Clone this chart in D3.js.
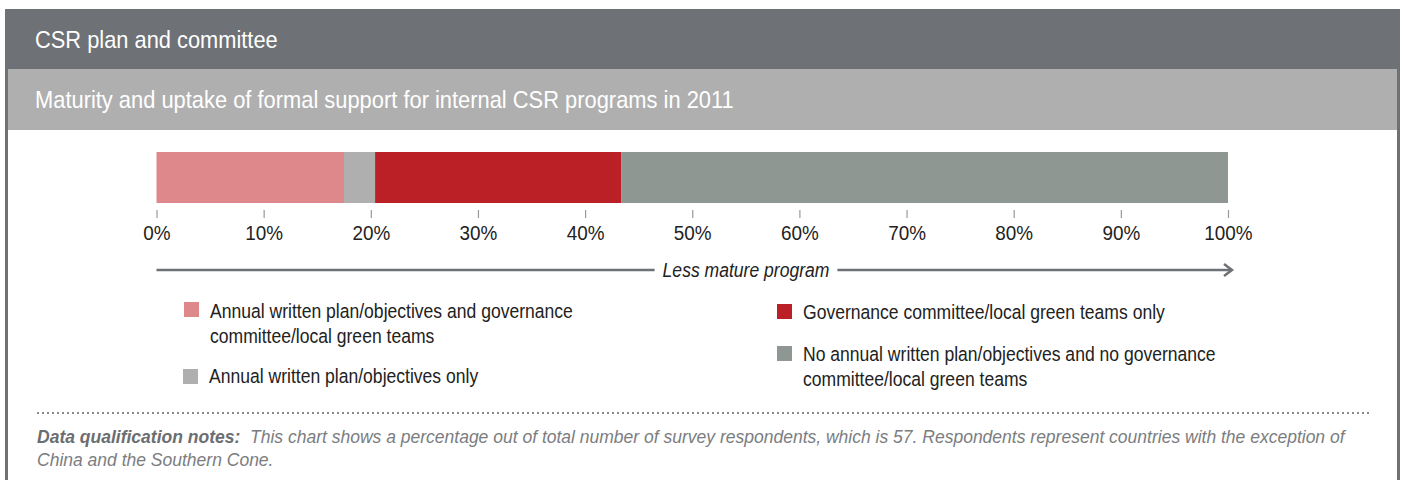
<!DOCTYPE html>
<html>
<head>
<meta charset="utf-8">
<script src="https://cdn.jsdelivr.net/npm/d3@7"></script>
<style>
  html, body { margin: 0; padding: 0; background: #fff; }
  svg { display: block; }
  text { font-family: "Liberation Sans Narrow", "Arial Narrow", "Liberation Sans", Arial, sans-serif; }
</style>
</head>
<body>
<svg id="chart" width="1405" height="480"></svg>
<script>
// ---- Data ----
const headerTitle = "CSR plan and committee";
const chartTitle = "Maturity and uptake of formal support for internal CSR programs in 2011";
const categories = [
  "Annual written plan/objectives and governance committee/local green teams",
  "Annual written plan/objectives only",
  "Governance committee/local green teams only",
  "No annual written plan/objectives and no governance committee/local green teams"
];
const values = [17.5, 2.9, 23.0, 56.6];
const colors = ["#de888c", "#afafaf", "#bb2026", "#8f9793"];
const tickValues = [0, 10, 20, 30, 40, 50, 60, 70, 80, 90, 100];
const arrowLabel = "Less mature program";
const legendLines = [
  ["Annual written plan/objectives and governance", "committee/local green teams"],
  ["Annual written plan/objectives only"],
  ["Governance committee/local green teams only"],
  ["No annual written plan/objectives and no governance", "committee/local green teams"]
];
const noteBold = "Data qualification notes:";
const noteLine1 = "This chart shows a percentage out of total number of survey respondents, which is 57. Respondents represent countries with the exception of";
const noteLine2 = "China and the Southern Cone.";

// ---- Drawing ----
const svg = d3.select("#chart");
const W = 1405, H = 480;
const frameColor = "#6e7175";
const SX = 0.9; // horizontal condensing to mimic a narrow typeface

function ntext(parent, x, y, size, sx) {
  const g = parent.append("g").attr("transform", `translate(${x},${y}) scale(${sx},1)`);
  return g.append("text").attr("x", 0).attr("y", 0).attr("dy", "0.35em").attr("font-size", size);
}

// header bands
svg.append("rect").attr("x", 5).attr("y", 9).attr("width", 1395).attr("height", 60).attr("fill", frameColor);
svg.append("rect").attr("x", 8).attr("y", 69).attr("width", 1389).attr("height", 61).attr("fill", "#afafaf");
// side borders
svg.append("rect").attr("x", 5).attr("y", 69).attr("width", 3).attr("height", H - 69).attr("fill", frameColor);
svg.append("rect").attr("x", 1397).attr("y", 69).attr("width", 3).attr("height", H - 69).attr("fill", frameColor);

ntext(svg, 35, 40, 24, 0.91).attr("fill", "#fff").text(headerTitle);
ntext(svg, 35, 100, 24, 0.912).attr("fill", "#fff").text(chartTitle);

// scale
const x = d3.scaleLinear().domain([0, 100]).range([156.5, 1228]);
const barTop = 152, barH = 51;

// stacked segments
let cum = 0;
const segs = values.map((v, i) => { const s = { start: cum, end: cum + v, color: colors[i], cat: categories[i] }; cum += v; return s; });
svg.append("g").selectAll("rect").data(segs).join("rect")
  .attr("x", d => x(d.start))
  .attr("y", barTop)
  .attr("width", d => x(d.end) - x(d.start))
  .attr("height", barH)
  .attr("fill", d => d.color);

// axis
const axis = d3.axisBottom(x).tickValues(tickValues).tickFormat(d => d + "%").tickSize(8).tickPadding(7);
const gAxis = svg.append("g").attr("transform", "translate(0,210)").call(axis);
gAxis.select(".domain").remove();
gAxis.selectAll(".tick line").attr("stroke", "#999").attr("stroke-width", 1.2);
gAxis.selectAll(".tick text").attr("fill", "#222").attr("font-size", 21)
  .attr("transform", `scale(${SX},1)`)
  .attr("font-family", "\"Liberation Sans Narrow\", \"Arial Narrow\", \"Liberation Sans\", Arial, sans-serif");

// arrow
const arrowY = 270;
const labelCx = 746;
const arrowText = ntext(svg, labelCx, arrowY, 19.5, SX)
  .attr("text-anchor", "middle").attr("font-style", "italic").attr("fill", "#222").text(arrowLabel);
const tw = arrowText.node().getComputedTextLength() * SX;
svg.append("line").attr("x1", x(0)).attr("x2", labelCx - tw / 2 - 8).attr("y1", arrowY).attr("y2", arrowY)
  .attr("stroke", frameColor).attr("stroke-width", 2.5);
svg.append("line").attr("x1", labelCx + tw / 2 + 8).attr("x2", x(100) + 3).attr("y1", arrowY).attr("y2", arrowY)
  .attr("stroke", frameColor).attr("stroke-width", 2.5);
svg.append("path")
  .attr("d", `M${x(100) - 4},${arrowY - 6} L${x(100) + 4},${arrowY} L${x(100) - 4},${arrowY + 6}`)
  .attr("fill", "none").attr("stroke", frameColor).attr("stroke-width", 2.5);

// legend
const legendPos = [
  { sx: 184, sy: 302, ty: 311 },
  { sx: 183, sy: 369, ty: 376 },
  { sx: 777, sy: 304, ty: 312 },
  { sx: 777, sy: 346, ty: 354 }
];
const lg = svg.append("g").selectAll("g").data(categories).join("g");
lg.append("rect")
  .attr("x", (d, i) => legendPos[i].sx).attr("y", (d, i) => legendPos[i].sy)
  .attr("width", 15).attr("height", 15).attr("fill", (d, i) => colors[i]);
lg.each(function (d, i) {
  const t = ntext(d3.select(this), legendPos[i].sx + 26, legendPos[i].ty, 19.5, SX).attr("fill", "#222");
  t.attr("dy", null);
  legendLines[i].forEach((ln, j) => {
    t.append("tspan").attr("x", 0).attr("y", j * 25.5).attr("dy", "0.35em").text(ln);
  });
});

// dotted separator
svg.append("line").attr("x1", 37).attr("x2", 1370).attr("y1", 413).attr("y2", 413)
  .attr("stroke", "#8a8a8a").attr("stroke-width", 2).attr("stroke-dasharray", "2,3");

// notes
const NSX = 0.947;
const n1 = ntext(svg, 37, 437, 18.5, NSX).attr("font-style", "italic").attr("fill", "#7b7d80");
n1.append("tspan").attr("font-weight", "bold").attr("fill", "#6b6d70").text(noteBold);
n1.append("tspan").text("\u00a0\u00a0" + noteLine1);
ntext(svg, 37, 460, 18.5, NSX).attr("font-style", "italic").attr("fill", "#7b7d80").text(noteLine2);
</script>
</body>
</html>
